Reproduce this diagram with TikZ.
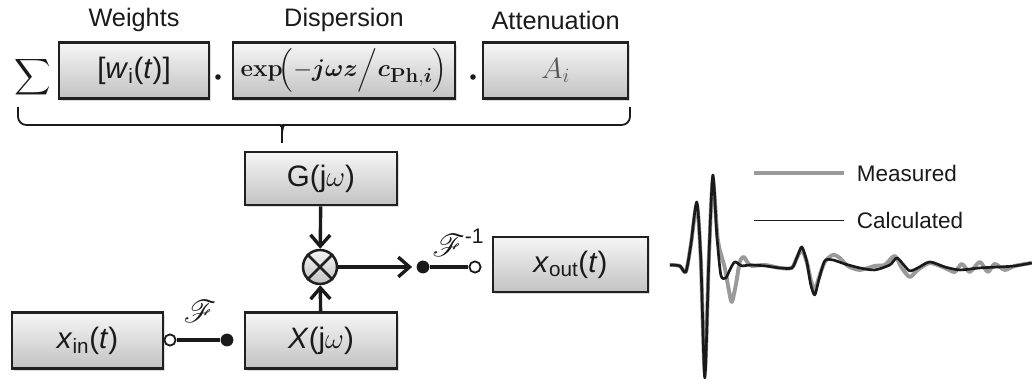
\documentclass[tikz,border=0pt]{standalone}
\usepackage{amsmath,bm,mathrsfs}
\usepackage[no-math]{fontspec}
\setmainfont{Liberation Sans}
\usepackage{tikz}
\usetikzlibrary{arrows.meta,positioning,shadows}
\definecolor{Tinta}{HTML}{1A1A1A}
\definecolor{Borde}{HTML}{202020}
\definecolor{GrisClaro}{HTML}{F6F6F6}
\definecolor{GrisMedio}{HTML}{C2C2C2}
\definecolor{GrisMedida}{HTML}{9A9A9A}
\definecolor{GrisTexto}{HTML}{555555}

\tikzset{
  bloque/.style={draw=Borde,line width=1.8pt,top color=GrisClaro,bottom color=GrisMedio,
    minimum height=1.4cm,inner sep=2pt,text=Tinta,font=\fontsize{21}{24}\selectfont,
    drop shadow={shadow xshift=1.6pt,shadow yshift=-1.6pt,fill=gray!55}},
  punto/.style={circle,fill=Tinta,inner sep=0pt,minimum size=0.32cm},
  hueco/.style={circle,draw=Tinta,fill=white,line width=1.3pt,inner sep=0pt,minimum size=0.28cm},
  rotulo/.style={font=\fontsize{18}{20}\selectfont,text=Tinta},
  leyenda/.style={font=\fontsize{16}{18}\selectfont,text=Tinta},
  flecha/.style={->,line width=2.4pt,Tinta},
}

\begin{document}
\begin{tikzpicture}[>={Straight Barb[length=8pt,width=14pt,line width=2.4pt]}]
  \useasboundingbox (0,0) rectangle (25.8,9.525);
  % suma de los modos
  \node[text=Tinta] (suma) at (0.82,7.6) {\scalebox{1.8}{$\displaystyle\sum$}};
  \node[bloque,minimum width=3.75cm] (pesos) at (3.35,7.76)
    {[\textit{w}\textsubscript{i}(\textit{t})]};
  \node[circle,fill=Tinta,inner sep=0pt,minimum size=0.14cm] (por1) at (5.45,7.6) {};
  \node[bloque,minimum width=5.55cm,font=\fontsize{19}{22}\selectfont] (disp) at (8.6,7.76)
    {$\mathbf{exp}\!\Bigl(-\bm{j\omega z}\Big/\bm{c}_{\mathbf{Ph},\bm{i}}\Bigr)$};
  \node[circle,fill=Tinta,inner sep=0pt,minimum size=0.14cm] (por2) at (11.825,7.6) {};
  \node[bloque,minimum width=3.625cm] (aten) at (13.89,7.76) {\color{GrisTexto}$A_i$};
  \node[rotulo] (lpesos) at (3.35,9.02) {Weights};
  \node[rotulo] (ldisp) at (8.6,9.02) {Dispersion};
  \node[rotulo] (laten) at (13.89,9.02) {Attenuation};
  % llave
  \draw[Tinta,line width=1.3pt,rounded corners=6pt] (0.45,6.85) -- (0.45,6.4) -- (6.8,6.4)
    .. controls (6.98,6.4) and (7.05,6.34) .. (7.05,6.18) -- (7.05,5.95);
  \draw[Tinta,line width=1.3pt,rounded corners=6pt] (15.75,6.85) -- (15.75,6.4) -- (7.3,6.4)
    .. controls (7.12,6.4) and (7.05,6.34) .. (7.05,6.18);
  % diagrama de bloques
  \node[bloque,minimum width=3.8cm,minimum height=1.33cm] (trans) at (8.025,5.06)
    {G(j$\omega$)};
  \node[circle,draw=Borde,line width=1.8pt,top color=GrisClaro,bottom color=GrisMedio,
    minimum size=0.85cm] (mult) at (8.0,2.85) {};
  \draw[Borde,line width=1.8pt] (mult.45) -- (mult.225) (mult.135) -- (mult.-45);
  \node[bloque,minimum width=3.8cm] (espec) at (8.025,1.01) {\textit{X}(j$\omega$)};
  \node[bloque,minimum width=3.775cm] (entrada) at (2.19,1.01)
    {\textit{x}\textsubscript{in}(\textit{t})};
  \node[hueco] (fa) at (4.25,1.025) {};
  \node[punto] (fb) at (5.675,1.025) {};
  \draw[Tinta,line width=2.6pt] (fa) -- (fb);
  \node[text=Tinta,font=\fontsize{18}{20}\selectfont] (lf) at (5.0,1.75)
    {\scalebox{1.3}{$\mathscr{F}$}};
  \draw[flecha] (trans) -- (mult);
  \draw[flecha] (espec) -- (mult);
  \node[punto] (ga) at (10.575,2.85) {};
  \node[hueco] (gb) at (11.875,2.85) {};
  \draw[flecha,shorten >=3pt] (mult) -- (ga);
  \draw[Tinta,line width=2.6pt] (ga) -- (gb);
  \node[text=Tinta,font=\fontsize{18}{20}\selectfont] (lg) at (11.45,3.45)
    {\scalebox{1.3}{$\mathscr{F}$}\raisebox{1.0ex}{\fontsize{15}{18}\selectfont-1}};
  \node[bloque,minimum width=3.875cm,minimum height=1.375cm] (salida) at (14.26,2.91)
    {\textit{x}\textsubscript{out}(\textit{t})};
  % leyenda
  \node[leyenda,anchor=west] (lmed) at (21.3,5.2) {Measured};
  \node[leyenda,anchor=west] (lcal) at (21.3,4.02) {Calculated};
  \draw[GrisMedida,line width=2.8pt] ([xshift=-0.2cm]lmed.west) -- ++(-2.25,0);
  \draw[Tinta,line width=0.9pt] ([xshift=-0.2cm]lcal.west) -- ++(-2.25,0);
  % senales (coordenadas en pixeles)
  \begin{scope}[x=0.025cm,y=-0.025cm,shift={(0cm,9.525cm)}]
    \draw[GrisMedida,line width=2.8pt,line join=round] plot[smooth,tension=0.45] coordinates {
      (670,265) (680,266) (686,272) (691,245) (697,205) (701,260) (705,372) (709,260)
      (713,180) (718,240) (725,268) (729,290) (732,302) (736,285) (740,262) (744,257)
      (748,263) (752,266) (765,265) (780,268) (792,268) (797,258) (802,250) (807,262)
      (811,280) (815,290) (819,278) (825,262) (833,255) (840,258) (848,266) (860,270)
      (875,266) (885,265) (895,256) (902,268) (910,277) (918,270) (930,263) (945,268)
      (955,272) (962,264) (970,272) (980,262) (988,272) (995,264) (1005,270) (1015,266)
      (1032,263)};
    \draw[Tinta,line width=1.9pt,line join=round] plot[smooth,tension=0.45] coordinates {
      (670,265) (680,266) (686,272) (691,245) (697,202) (701,260) (705,378) (709,260)
      (713,175) (717,235) (721,275) (726,278) (730,270) (735,262) (742,266) (750,265)
      (765,266) (780,268) (792,268) (797,258) (802,247) (807,262) (811,285) (815,295)
      (819,280) (825,261) (833,260) (845,264) (860,268) (875,270) (890,265) (897,258)
      (904,265) (910,271) (918,268) (930,262) (945,267) (960,270) (980,268) (1000,267)
      (1015,266) (1032,263)};
  \end{scope}
\end{tikzpicture}
\end{document}
